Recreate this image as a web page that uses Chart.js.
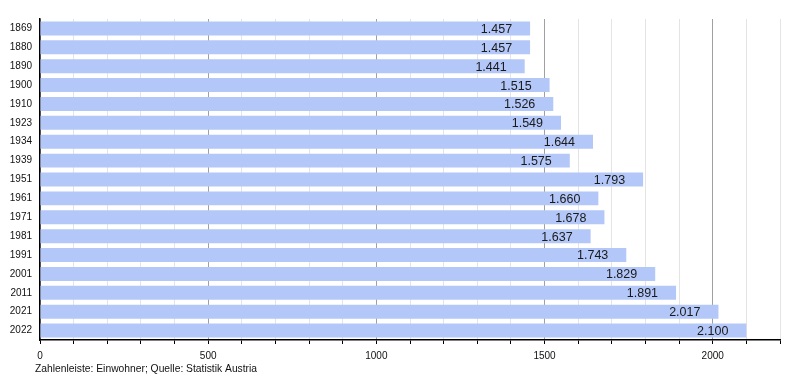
<!DOCTYPE html>
<html><head><meta charset="utf-8">
<script src="https://cdn.jsdelivr.net/npm/chart.js@4/dist/chart.umd.min.js"></script>
<style>html,body{margin:0;padding:0;background:#fff}#wrap{width:800px;height:380px}</style>
</head><body><div id="wrap"><canvas id="c" width="800" height="380"></canvas></div>
<script>
const years = ["1869","1880","1890","1900","1910","1923","1934","1939","1951","1961","1971","1981","1991","2001","2011","2021","2022"];
const population = [1457,1457,1441,1515,1526,1549,1644,1575,1793,1660,1678,1637,1743,1829,1891,2017,2100];
const xTickLabels = [0,500,1000,1500,2000];
const footerText = "Zahlenleiste: Einwohner; Quelle: Statistik Austria";

const fmt = v => v >= 1000 ? Math.floor(v/1000) + "." + String(v%1000).padStart(3,"0") : String(v);

const valueLabels = {
  id: "valueLabels",
  afterDatasetsDraw(chart) {
    const ctx = chart.ctx;
    const meta = chart.getDatasetMeta(0);
    ctx.save();
    ctx.font = "12.5px 'Liberation Sans', Arial, sans-serif";
    ctx.fillStyle = "#1a1a1a";
    ctx.textAlign = "right";
    ctx.textBaseline = "middle";
    meta.data.forEach((bar, i) => {
      ctx.fillText(fmt(population[i]), bar.x - 18, bar.y + 1);
    });
    ctx.restore();
  },
  afterDraw(chart) {
    const ctx = chart.ctx;
    ctx.save();
    ctx.font = "10.3px 'Liberation Sans', Arial, sans-serif";
    ctx.fillStyle = "#111";
    ctx.textAlign = "left";
    ctx.textBaseline = "middle";
    ctx.fillText(footerText, 35, 369);
    ctx.restore();
  }
};

new Chart(document.getElementById("c"), {
  type: "bar",
  data: {
    labels: years,
    datasets: [{
      data: population,
      backgroundColor: "#b3c7f8",
      borderWidth: 0,
      barPercentage: 0.74,
      categoryPercentage: 1.0
    }]
  },
  options: {
    indexAxis: "y",
    responsive: false,
    animation: false,
    layout: { padding: { top: 19, right: 20, left: 0, bottom: 0 } },
    plugins: { legend: { display: false }, tooltip: { enabled: false } },
    scales: {
      x: {
        min: 0, max: 2200,
        afterFit(s) { s.height = 40; },
        afterBuildTicks(s) {
          const t = [];
          for (let v = 0; v <= 2200; v += 100) t.push({ value: v });
          s.ticks = t;
        },
        ticks: {
          autoSkip: false,
          maxRotation: 0,
          padding: 6,
          color: "#111",
          font: { size: 10, family: "'Liberation Sans', Arial, sans-serif" },
          callback: v => xTickLabels.includes(v) ? String(v) : ""
        },
        grid: {
          drawTicks: true,
          tickLength: 4,
          tickColor: "#000",
          color: ctx => (ctx.tick && ctx.tick.value % 500 === 0) ? "#a0a0a0" : "#e4e4e4",
          lineWidth: 1
        },
        border: { display: true, color: "#000", width: 1.5 }
      },
      y: {
        afterFit(s) { s.width = 40; },
        ticks: {
          padding: 8,
          color: "#111",
          font: { size: 10, family: "'Liberation Sans', Arial, sans-serif" }
        },
        grid: { display: false, drawTicks: false },
        border: { display: true, color: "#000", width: 1.5 }
      }
    }
  },
  plugins: [valueLabels]
});
</script>
</body></html>
